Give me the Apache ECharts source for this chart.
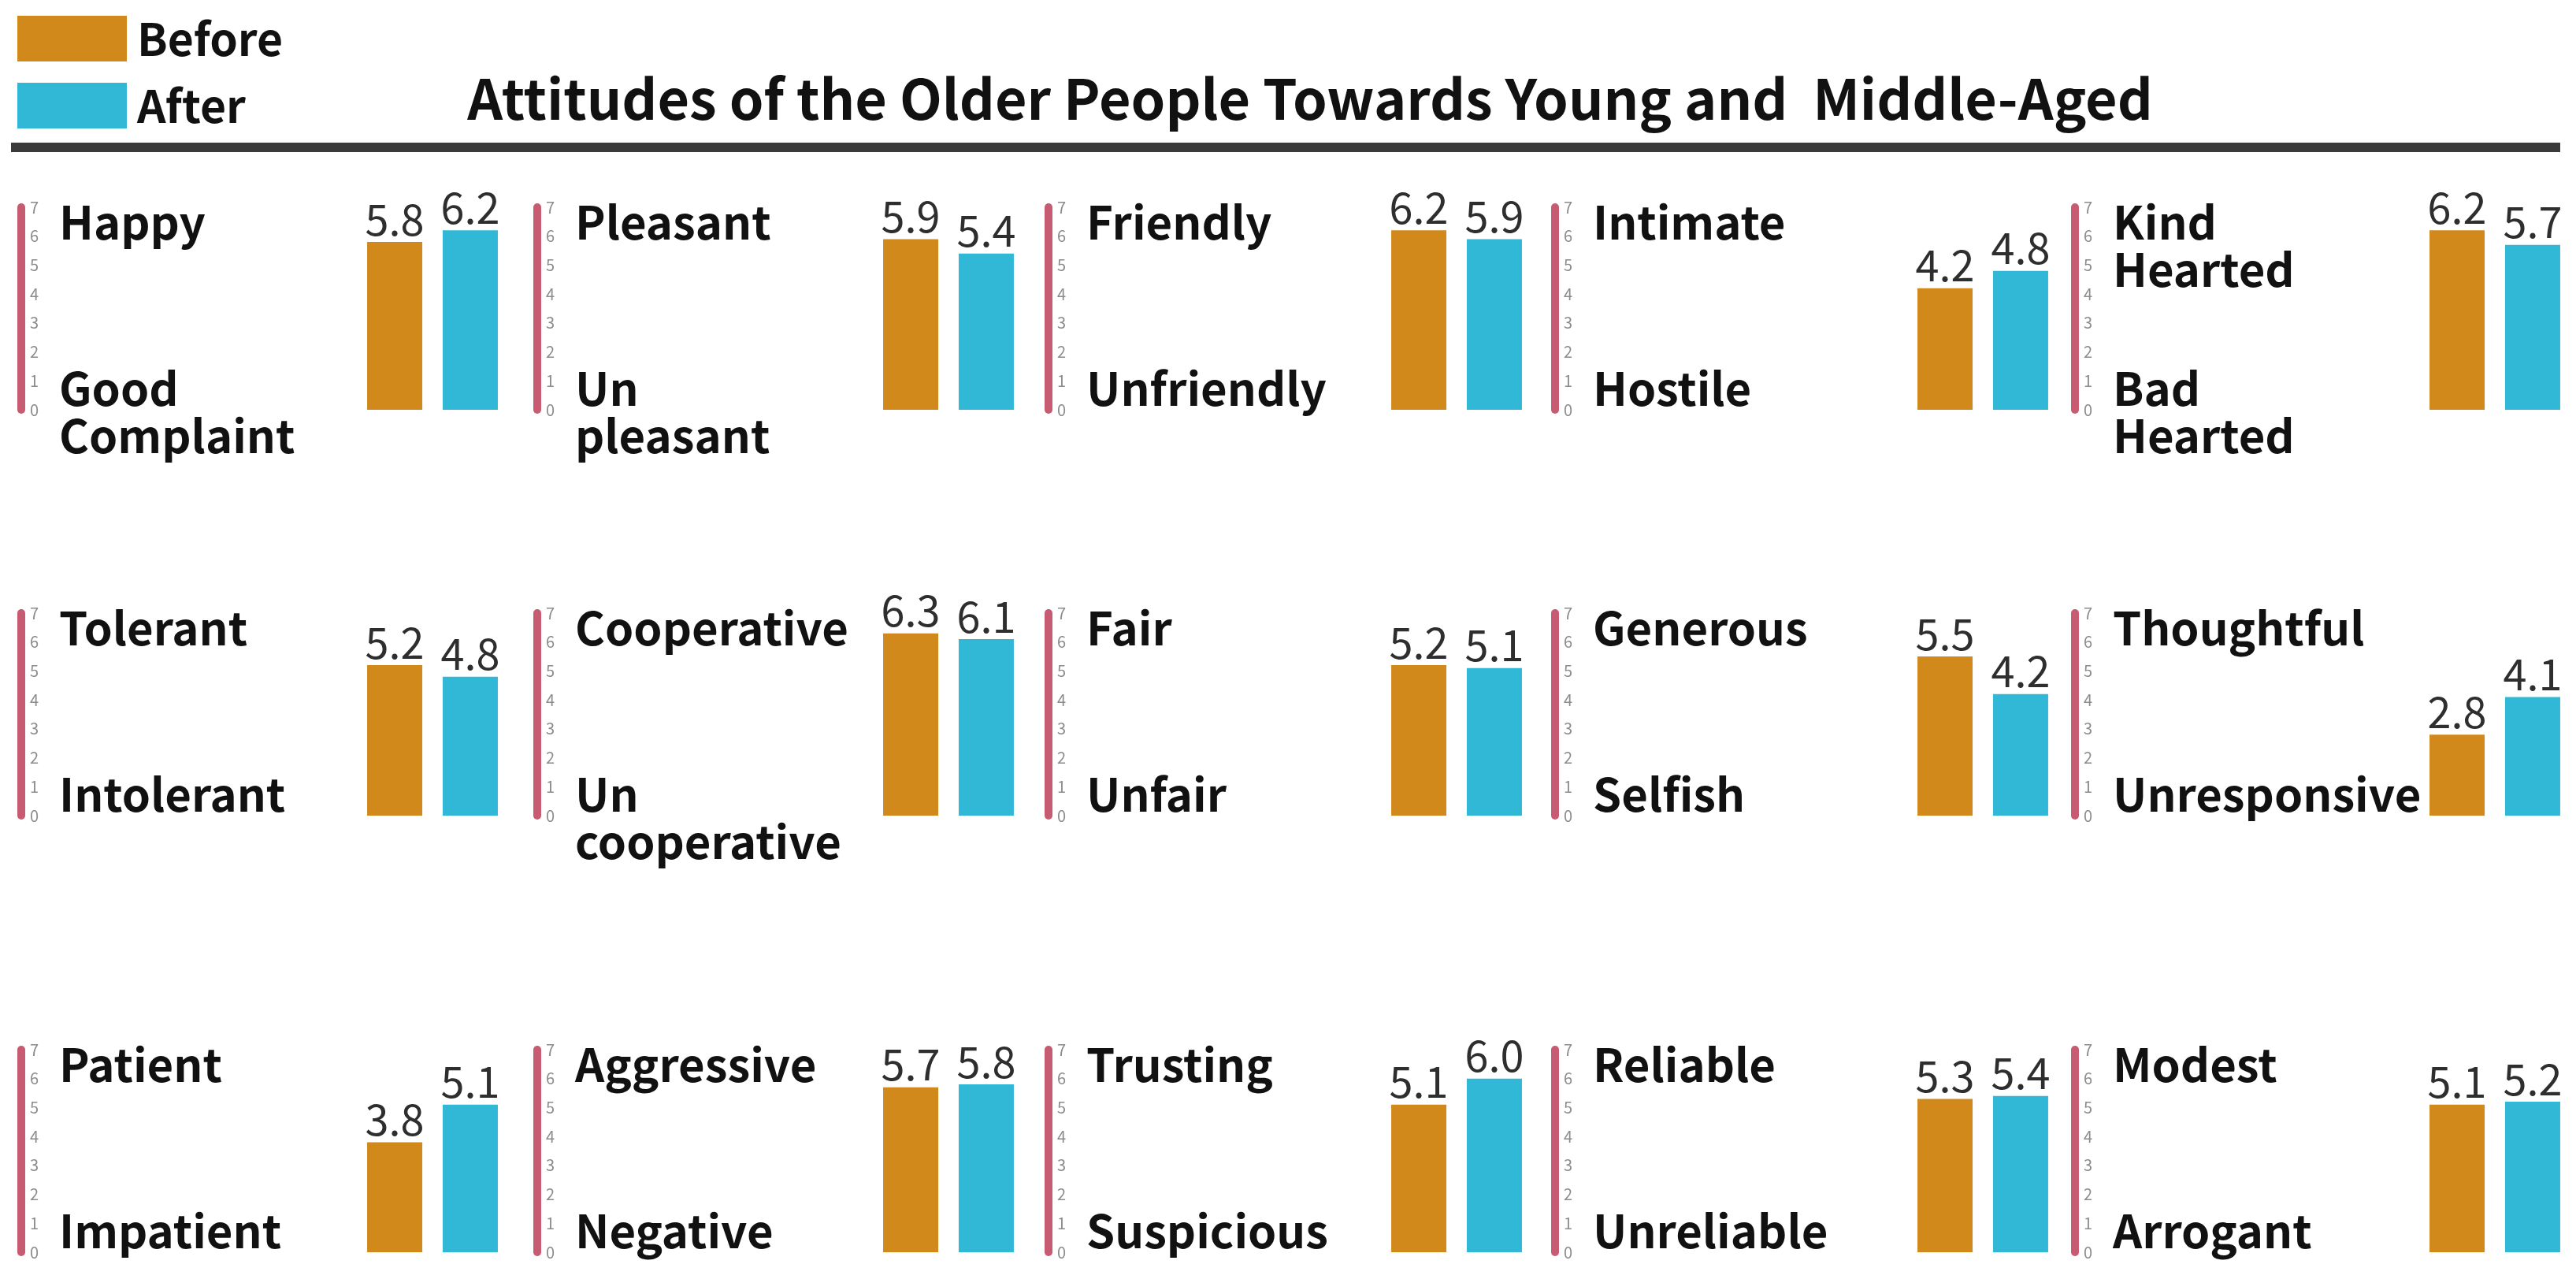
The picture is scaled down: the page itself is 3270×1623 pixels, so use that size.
<!DOCTYPE html>
<html>
<head>
<meta charset="utf-8">
<script src="https://cdn.jsdelivr.net/npm/echarts@6/dist/echarts.min.js"></script>
<style>
html,body{margin:0;padding:0;background:#fff;}
#chart{width:3270px;height:1623px;}
#err{position:absolute;left:20px;top:20px;font:24px monospace;color:red;white-space:pre-wrap;width:3200px;}
</style>
</head>
<body>
<div id="chart"></div>
<div id="err"></div>
<script>
// ---- data ----
var seriesNames = ['Before', 'After'];
var topLabels = ['Happy', 'Pleasant', 'Friendly', 'Intimate', 'Kind\nHearted',
                 'Tolerant', 'Cooperative', 'Fair', 'Generous', 'Thoughtful',
                 'Patient', 'Aggressive', 'Trusting', 'Reliable', 'Modest'];
var bottomLabels = ['Good\nComplaint', 'Un\npleasant', 'Unfriendly', 'Hostile', 'Bad\nHearted',
                    'Intolerant', 'Un\ncooperative', 'Unfair', 'Selfish', 'Unresponsive',
                    'Impatient', 'Negative', 'Suspicious', 'Unreliable', 'Arrogant'];
var beforeValues = [5.8, 5.9, 6.2, 4.2, 6.2,
                    5.2, 6.3, 5.2, 5.5, 2.8,
                    3.8, 5.7, 5.1, 5.3, 5.1];
var afterValues = [6.2, 5.4, 5.9, 4.8, 5.7,
                   4.8, 6.1, 5.1, 4.2, 4.1,
                   5.1, 5.8, 6.0, 5.4, 5.2];
var axisTicks = [0, 7, 1]; // min, max, interval
var titleText = 'Attitudes of the Older People Towards Young and  Middle-Aged';

(function () {
// ---- layout ----
var FONT = '"Noto Sans CJK SC", "Noto Sans", sans-serif';
var pinkX = [27, 682, 1331, 1974, 2634];
var barLeft = [466, 1121, 1766, 2434, 3084];
var rowTop = [263, 778, 1332];
var panelH = 257;
var barW = 70, barGapPx = 26;
var colors = {Before: '#d2891c', After: '#31b8d7'};
var pink = '#c65b72';

try {
var chart = echarts.init(document.getElementById('chart'));

var grids = [], xAxes = [], yAxes = [], series = [], graphics = [];

graphics.push({
  type: 'text', x: 1663, y: 125,
  style: {text: titleText, font: 'bold 70px ' + FONT, fill: '#111', align: 'center', verticalAlign: 'middle'}
});
graphics.push({
  type: 'rect', shape: {x: 14, y: 181, width: 3236, height: 12},
  style: {fill: '#3a3a3a'}
});

for (var i = 0; i < topLabels.length; i++) {
  var r = Math.floor(i / 5), c = i % 5;
  var rt = rowTop[r];
  grids.push({left: barLeft[c], top: rt, width: barW * 2 + barGapPx, height: panelH});
  xAxes.push({type: 'category', gridIndex: i, data: ['v'], show: false});
  yAxes.push({
    type: 'value', gridIndex: i, min: axisTicks[0], max: axisTicks[1], interval: axisTicks[2],
    position: 'left', offset: barLeft[c] - pinkX[c],
    axisLine: {show: true, lineStyle: {color: pink, width: 10}},
    axisTick: {show: false}, splitLine: {show: false},
    axisLabel: {inside: true, margin: 11, fontSize: 20, color: '#8c8c8c', fontFamily: FONT}
  });
  for (var k = 0; k < 2; k++) {
    var vals = k === 0 ? beforeValues : afterValues;
    series.push({
      type: 'bar', name: seriesNames[k], xAxisIndex: i, yAxisIndex: i,
      data: [vals[i]], barWidth: barW, barGap: Math.round(barGapPx / barW * 100) + '%',
      itemStyle: {color: colors[seriesNames[k]]},
      label: {show: true, position: 'top', distance: 2, fontSize: 54, color: '#2e2e2e', fontFamily: FONT,
              formatter: function (p) { return Number(p.value).toFixed(1); }}
    });
  }
  graphics.push({
    type: 'text', x: pinkX[c] + 48, y: rt - 11,
    style: {text: topLabels[i], font: 'bold 58px ' + FONT, fill: '#111', lineHeight: 60,
            align: 'left', verticalAlign: 'top'}
  });
  graphics.push({
    type: 'text', x: pinkX[c] + 48, y: rt + panelH - 57,
    style: {text: bottomLabels[i], font: 'bold 58px ' + FONT, fill: '#111', lineHeight: 60,
            align: 'left', verticalAlign: 'top'}
  });
}

chart.setOption({
  backgroundColor: '#fff',
  animation: false,
  legend: {
    data: seriesNames, left: 17, top: 15, orient: 'vertical', icon: 'rect',
    itemWidth: 139, itemHeight: 58, itemGap: 27,
    textStyle: {fontSize: 57, fontWeight: 'bold', color: '#111', fontFamily: FONT, padding: [0, 0, 0, 8]}
  },
  grid: grids, xAxis: xAxes, yAxis: yAxes, series: series,
  graphic: {elements: graphics}
});
} catch (e) {
  document.getElementById('err').textContent = String(e) + '\n' + (e.stack || '');
}
})();
</script>
</body>
</html>
